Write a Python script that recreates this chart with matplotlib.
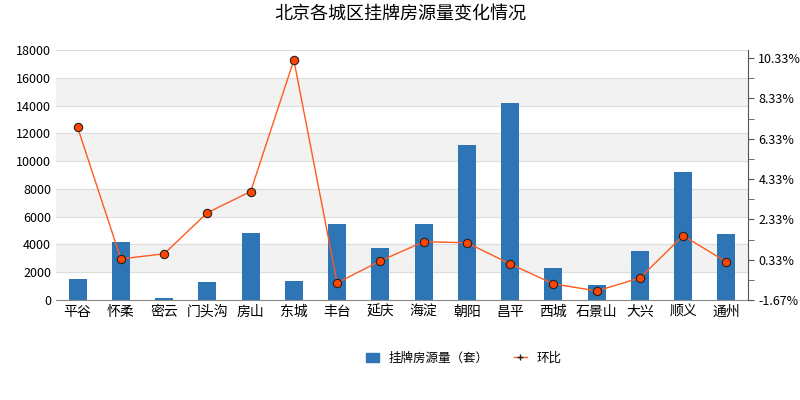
import matplotlib
matplotlib.use("Agg")
import matplotlib.pyplot as plt
from matplotlib.ticker import FixedLocator
plt.rcParams['font.family'] = 'Noto Sans CJK SC'

districts = ['平谷','怀柔','密云','门头沟','房山','东城','丰台','延庆','海淀','朝阳','昌平','西城','石景山','大兴','顺义','通州']
listings = [1500,4150,150,1300,4800,1350,5450,3750,5450,11150,14150,2300,1100,3500,9200,4750]
mom = [6.89,0.37,0.62,2.66,3.71,10.23,-0.82,0.27,1.22,1.17,0.12,-0.87,-1.22,-0.58,1.52,0.22]
right_ticks = [-1.67,0.33,2.33,4.33,6.33,8.33,10.33]

fig = plt.figure(figsize=(8,4), dpi=100)
ax = fig.add_axes([0.07, 0.25, 0.865, 0.625])
for lo in [2000,6000,10000,14000]:
    ax.axhspan(lo, lo+2000, color='#f2f2f2', zorder=0)
for y in range(0,18001,2000):
    ax.axhline(y, color='#dddddd', lw=0.8, zorder=0)
x = list(range(len(districts)))
ax.bar(x, listings, width=0.42, color='#2e75b6', zorder=2)
ax.set_ylim(0,18000)
ax.set_xlim(-0.5, len(districts)-0.5)
ax.set_yticks(range(0,18001,2000))
ax.set_xticks(x)
ax.set_xticklabels(districts, fontsize=10)
ax.tick_params(axis='y', labelsize=9, length=0)
ax.tick_params(axis='x', length=0)
for s in ['top','right','left']:
    ax.spines[s].set_visible(False)
ax.spines['bottom'].set_color('#888888')

ax2 = ax.twinx()
ax2.plot(x, mom, color='#ff5a1f', lw=1, marker='o', markersize=6,
         markerfacecolor='#ff4500', markeredgecolor='#222222', markeredgewidth=0.8, zorder=3)
ax2.set_ylim(-1.67, 10.73)
ax2.set_yticks(right_ticks)
ax2.set_yticklabels([f'{t:.2f}%' for t in right_ticks], fontsize=9)
ax2.yaxis.set_minor_locator(FixedLocator([t+1 for t in right_ticks]))
ax2.tick_params(axis='y', which='both', length=4, color='#555555')
for s in ['top','left','bottom']:
    ax2.spines[s].set_visible(False)
ax2.spines['right'].set_color('#555555')

fig.suptitle('北京各城区挂牌房源量变化情况', fontsize=13, y=0.985)
from matplotlib.lines import Line2D
from matplotlib.patches import Patch
h = [Patch(color='#2e75b6'), Line2D([],[],color='#ff5a1f', marker='+', markersize=5, markeredgecolor='#222', lw=1)]
fig.legend(h, ['挂牌房源量（套）','环比'], loc='lower center', bbox_to_anchor=(0.58,0.06), ncol=2, frameon=False, fontsize=9, handlelength=1.0, columnspacing=2)
fig.savefig('out.png', dpi=100)
